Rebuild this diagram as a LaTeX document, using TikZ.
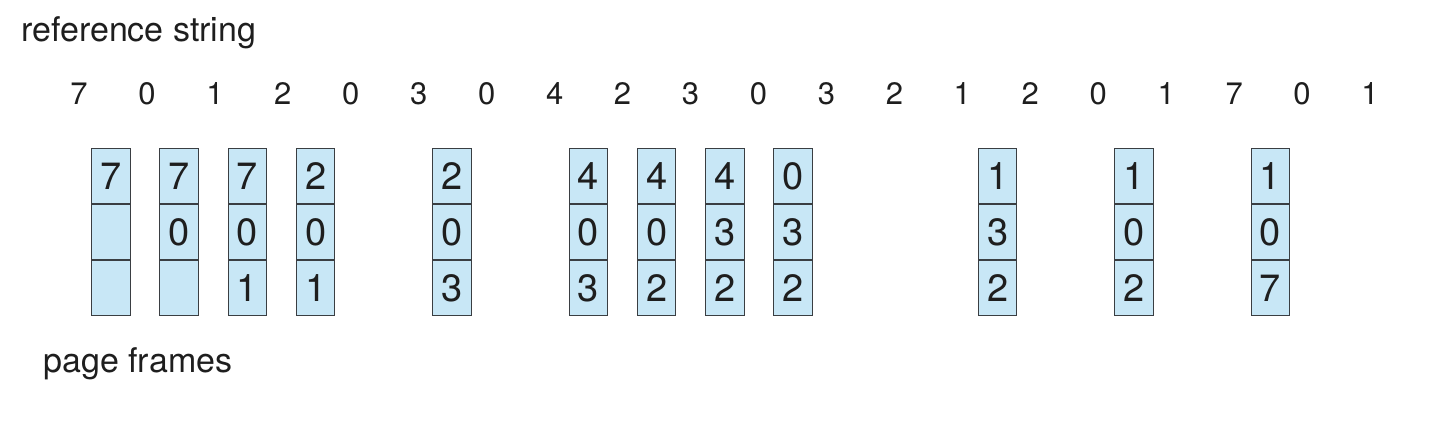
\documentclass[tikz,border=0pt]{standalone}
\usepackage{fontspec}
\setmainfont{TeX Gyre Heros}
\usepackage{tikz}
\usetikzlibrary{positioning}
\definecolor{frameBlue}{RGB}{200,231,246}
\definecolor{frameEdge}{RGB}{58,62,66}
\definecolor{textDark}{RGB}{30,30,30}

\begin{document}
\begin{tikzpicture}[x=0.5pt, y=-0.5pt,
    label/.style={anchor=base west, inner sep=0pt, text=textDark, font=\fontsize{17}{20}\selectfont},
    refnum/.style={anchor=base, inner sep=0pt, text=textDark, font=\fontsize{15.5}{18}\selectfont},
    cell/.style={draw=frameEdge, fill=frameBlue, line width=0.5pt, inner sep=0pt,
        minimum width=19.25pt, minimum height=27.5pt, text=textDark,
        font=\fontsize{19}{22}\selectfont}]
    \useasboundingbox (0,0) rectangle (1442,430);

    % labels
    \node[label] (refstr) at (21,41) {reference string};
    \node[label] (pgfr) at (43,372) {page frames};

    % reference string
    \foreach \d [count=\i from 0] in {7,0,1,2,0,3,0,4,2,3,0,3,2,1,2,0,1,7,0,1}
        \node[refnum] (r\i) at ({79+67.95*\i},104) {\d};

    % page frames
    \foreach \c/\a/\b/\e [count=\k] in {0/7/{}/{}, 1/7/0/{}, 2/7/0/1, 3/2/0/1, 5/2/0/3,
        7/4/0/3, 8/4/0/2, 9/4/3/2, 10/0/3/2, 13/1/3/2, 15/1/0/2, 17/1/0/7}
    {
        \node[cell] (f\k-1) at ({111+68.2*\c},176) {\a};
        \node[cell, below=0pt of f\k-1] (f\k-2) {\b};
        \node[cell, below=0pt of f\k-2] (f\k-3) {\e};
    }
\end{tikzpicture}
\end{document}
